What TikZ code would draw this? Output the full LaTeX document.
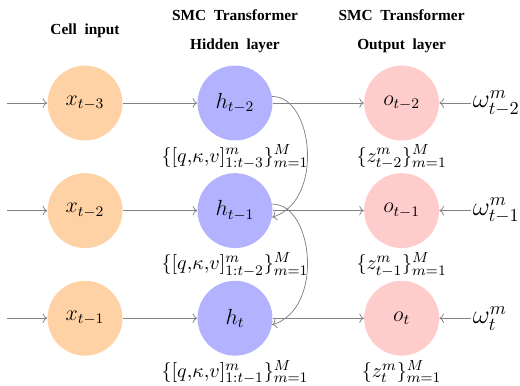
\documentclass[tikz,border=0pt]{standalone}
\usepackage{amsmath,amssymb}
\usepackage{fontspec}
\newfontfamily\headfont{Liberation Serif}
\usetikzlibrary{arrows.meta,positioning,calc}

\begin{document}
\begin{tikzpicture}[
  font=\normalsize,
  cell/.style={circle, minimum size=1.44cm, inner sep=0pt, font=\large},
  inp/.style={cell, fill=orange!35},
  hid/.style={cell, fill=blue!30},
  outp/.style={cell, fill=red!20},
  arr/.style={->, gray, line width=0.4pt},
  head/.style={font=\headfont\bfseries\fontsize{8.4}{10}\selectfont, align=center},
  lab/.style={inner sep=1pt, font=\fontsize{11}{13}\selectfont},
  wlab/.style={font=\Large, inner sep=1pt}
]
\useasboundingbox (0,0) rectangle (10,-7.404);
% cells
\node[inp] (x1) at (1.635,-1.981) {$x_{t-3}$};
\node[inp, below=0.615cm of x1] (x2) {$x_{t-2}$};
\node[inp, below=0.615cm of x2] (x3) {$x_{t-1}$};
\node[hid, right=1.43cm of x1] (h1) {$h_{t-2}$};
\node[hid, right=1.43cm of x2] (h2) {$h_{t-1}$};
\node[hid, right=1.43cm of x3] (h3) {$h_{t}$};
\node[outp, right=1.75cm of h1] (o1) {$o_{t-2}$};
\node[outp, right=1.75cm of h2] (o2) {$o_{t-1}$};
\node[outp, right=1.75cm of h3] (o3) {$o_{t}$};
% headers
\node[head, above=1.385cm of x1.center, anchor=center] (hx) {Cell\ \ input};
\node[head, above=1.385cm of h1.center, anchor=center] (hh) {SMC\ \ Transformer\\[5.8pt]Hidden\ \ layer};
\node[head, above=1.385cm of o1.center, anchor=center] (ho) {SMC\ \ Transformer\\[5.8pt]Output\ \ layer};
% weights
\node[wlab, right=0.6cm of o1] (w1) {$\omega^m_{t-2}$};
\node[wlab, right=0.6cm of o2] (w2) {$\omega^m_{t-1}$};
\node[wlab, right=0.6cm of o3] (w3) {$\omega^m_{t}$};
% particle sets
\node[lab, below=1pt of h1] (k1) {$\{[q{,}\kappa{,}v]^m_{1:t-3}\}^M_{m=1}$};
\node[lab, below=1pt of h2] (k2) {$\{[q{,}\kappa{,}v]^m_{1:t-2}\}^M_{m=1}$};
\node[lab, below=1pt of h3] (k3) {$\{[q{,}\kappa{,}v]^m_{1:t-1}\}^M_{m=1}$};
\node[lab, below=1pt of o1] (z1) {$\{z^m_{t-2}\}^M_{m=1}$};
\node[lab, below=1pt of o2] (z2) {$\{z^m_{t-1}\}^M_{m=1}$};
\node[lab, below=1pt of o3] (z3) {$\{z^m_{t}\}^M_{m=1}$};
% inputs
\coordinate[left=0.77cm of x1] (i1);
\coordinate[left=0.77cm of x2] (i2);
\coordinate[left=0.77cm of x3] (i3);
\draw[arr] (i1) -- (x1);
\draw[arr] (i2) -- (x2);
\draw[arr] (i3) -- (x3);
\draw[arr] (x1) -- (h1);
\draw[arr] (x2) -- (h2);
\draw[arr] (x3) -- (h3);
\draw[arr] (h1) -- (o1);
\draw[arr] (h2) -- (o2);
\draw[arr] (h3) -- (o3);
\draw[arr] (w1) -- (o1);
\draw[arr] (w2) -- (o2);
\draw[arr] (w3) -- (o3);
% recurrence
\draw[arr] (h1.10) .. controls +(0.8,0) and +(1.0,0.3) .. (h2.-10);
\draw[arr] (h2.10) .. controls +(0.8,0) and +(1.0,0.3) .. (h3.-10);
\end{tikzpicture}
\end{document}
